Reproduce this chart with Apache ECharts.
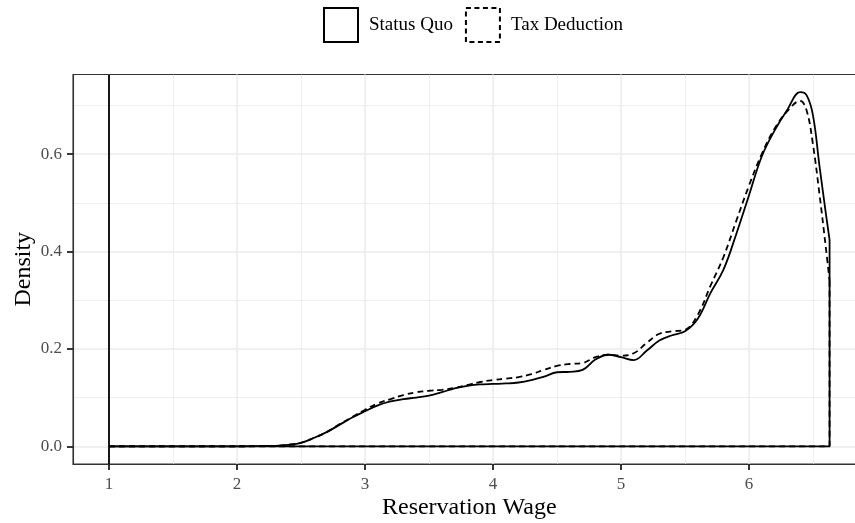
<!DOCTYPE html>
<html>
<head>
<meta charset="utf-8">
<script src="https://cdn.jsdelivr.net/npm/echarts@6/dist/echarts.min.js"></script>
<style>
  html, body { margin: 0; padding: 0; background: #fff; }
  #chart { width: 855px; height: 523px; }
</style>
</head>
<body>
<div id="chart"></div>
<script>
// Reservation wage grid and estimated densities for the two scenarios
const wage = [1.0, 2.0, 2.2, 2.3, 2.4, 2.5, 2.6, 2.7, 2.8, 2.9, 3.0, 3.1, 3.2, 3.3, 3.4, 3.5, 3.6, 3.7, 3.8, 3.9,
              4.0, 4.1, 4.2, 4.3, 4.4, 4.5, 4.6, 4.7, 4.8, 4.9, 5.0, 5.1, 5.2, 5.3, 5.4, 5.5, 5.6, 5.7, 5.8, 5.9,
              6.0, 6.1, 6.2, 6.3, 6.4, 6.45, 6.5, 6.55, 6.6, 6.63];
const statusQuo = [0, 0, 0.0005, 0.001, 0.003, 0.007, 0.017, 0.029, 0.044, 0.059, 0.072, 0.084, 0.092, 0.097, 0.100, 0.104, 0.111, 0.119, 0.124, 0.127,
                   0.128, 0.129, 0.131, 0.136, 0.143, 0.152, 0.153, 0.157, 0.178, 0.188, 0.183, 0.177, 0.196, 0.217, 0.228, 0.236, 0.262, 0.315, 0.362, 0.435,
                   0.515, 0.595, 0.648, 0.691, 0.727, 0.721, 0.680, 0.578, 0.480, 0.424];
const taxDeduction = [0, 0, 0.0005, 0.001, 0.003, 0.007, 0.017, 0.029, 0.045, 0.060, 0.075, 0.088, 0.097, 0.105, 0.111, 0.114, 0.116, 0.120, 0.126, 0.132,
                      0.136, 0.139, 0.142, 0.148, 0.157, 0.165, 0.169, 0.171, 0.183, 0.188, 0.186, 0.191, 0.212, 0.231, 0.236, 0.239, 0.270, 0.330, 0.388, 0.462,
                      0.535, 0.600, 0.652, 0.688, 0.709, 0.690, 0.620, 0.520, 0.410, 0.340];

const seriesNames = ['Status Quo', 'Tax Deduction'];
const referenceWage = [1];

// Axis ticks and labels
const xTicks = [1, 2, 3, 4, 5, 6];
const xMinorTicks = [1.5, 2.5, 3.5, 4.5, 5.5, 6.5];
const yTicks = [0, 0.2, 0.4, 0.6];
const yTickLabels = ['0.0', '0.2', '0.4', '0.6'];
const yMinorTicks = [0.1, 0.3, 0.5, 0.7];

const xTitle = 'Reservation Wage';
const yTitle = 'Density';

// Panel limits with a 5% expansion around the data
const xLo = Math.min(...wage), xHi = Math.max(...wage);
const yHi = Math.max(...statusQuo, ...taxDeduction);
const xPad = (xHi - xLo) * 0.05, yPad = yHi * 0.05;

const FONT = 'Liberation Serif';
const INK = '#000000';
const FRAME = '#333333';

function curve(ys) { return wage.map((x, i) => [x, ys[i]]); }
// Closing outline: drop at the right end, then baseline back to the start
function outline(ys) {
  const n = wage.length - 1;
  return [[wage[n], ys[n]], [wage[n], 0], [wage[0], 0]];
}

const majorGrid = { show: true, lineStyle: { color: '#EBEBEB', width: 1.6 } };
const minorGrid = { show: true, lineStyle: { color: '#EBEBEB', width: 0.8 } };

const chart = echarts.init(document.getElementById('chart'), null, { renderer: 'canvas' });
chart.setOption({
  backgroundColor: '#ffffff',
  animation: false,
  grid: {
    left: 73, top: 74.5, width: 792.6, height: 389.5,
    outerBoundsMode: 'none', containLabel: false,
    show: true, borderColor: FRAME, borderWidth: 1.1, backgroundColor: 'transparent'
  },
  legend: {
    left: 323, top: 7, padding: 0,
    itemWidth: 34, itemHeight: 34, itemGap: 12,
    icon: 'rect',
    data: [
      { name: seriesNames[0], itemStyle: { color: 'rgba(0,0,0,0)', borderColor: INK, borderWidth: 2, borderType: 'solid' } },
      { name: seriesNames[1], itemStyle: { color: 'rgba(0,0,0,0)', borderColor: INK, borderWidth: 2, borderType: [5, 3.5] } }
    ],
    textStyle: { fontFamily: FONT, fontSize: 19, color: INK, padding: [0, 0, 0, 6] }
  },
  xAxis: [
    {
      type: 'value', min: xLo - xPad, max: xHi + xPad, position: 'bottom',
      name: xTitle, nameLocation: 'middle', nameGap: 32, nameMoveOverlap: false,
      nameTextStyle: { fontFamily: FONT, fontSize: 24, color: INK },
      axisLine: { show: true, onZero: false, lineStyle: { color: FRAME, width: 1.1 } },
      axisTick: { show: true, length: 6, lineStyle: { color: '#222222', width: 1.8 }, customValues: xTicks },
      axisLabel: { show: true, margin: 12, fontFamily: FONT, fontSize: 17, color: '#4D4D4D', customValues: xTicks,
                   formatter: v => String(v) },
      splitLine: majorGrid
    },
    {
      type: 'value', min: xLo - xPad, max: xHi + xPad, position: 'top',
      axisLine: { show: false },
      axisTick: { show: false, customValues: xMinorTicks },
      axisLabel: { show: false, customValues: xMinorTicks },
      splitLine: minorGrid
    }
  ],
  yAxis: [
    {
      type: 'value', min: -yPad, max: yHi + yPad, position: 'left',
      name: yTitle, nameLocation: 'middle', nameGap: 37, nameMoveOverlap: false,
      nameTextStyle: { fontFamily: FONT, fontSize: 24, color: INK },
      axisLine: { show: true, onZero: false, lineStyle: { color: FRAME, width: 1.1 } },
      axisTick: { show: true, length: 6, lineStyle: { color: '#222222', width: 1.8 }, customValues: yTicks },
      axisLabel: { show: true, margin: 11, fontFamily: FONT, fontSize: 17, color: '#4D4D4D', customValues: yTicks,
                   formatter: v => yTickLabels[yTicks.findIndex(t => Math.abs(t - v) < 1e-9)] },
      splitLine: majorGrid
    },
    {
      type: 'value', min: -yPad, max: yHi + yPad, position: 'right',
      axisLine: { show: false },
      axisTick: { show: false, customValues: yMinorTicks },
      axisLabel: { show: false, customValues: yMinorTicks },
      splitLine: minorGrid
    }
  ],
  series: [
    {
      name: seriesNames[1], type: 'line', data: curve(taxDeduction),
      smooth: 0.4, showSymbol: false, symbol: 'none',
      lineStyle: { color: INK, width: 1.8, type: [6, 4] }, itemStyle: { color: INK }, z: 3
    },
    {
      name: seriesNames[1] + ' outline', type: 'line', data: outline(taxDeduction),
      showSymbol: false, symbol: 'none',
      lineStyle: { color: INK, width: 1.8, type: [6, 4] }, z: 3
    },
    {
      name: seriesNames[0], type: 'line', data: curve(statusQuo),
      smooth: 0.4, showSymbol: false, symbol: 'none',
      lineStyle: { color: INK, width: 1.8, type: 'solid' }, itemStyle: { color: INK }, z: 4,
      markLine: {
        silent: true, symbol: 'none', label: { show: false },
        lineStyle: { color: INK, width: 1.8, type: 'solid' },
        data: referenceWage.map(v => ({ xAxis: v }))
      }
    },
    {
      name: seriesNames[0] + ' outline', type: 'line', data: outline(statusQuo),
      showSymbol: false, symbol: 'none',
      lineStyle: { color: INK, width: 1.8, type: 'solid' }, z: 4
    }
  ]
});
</script>
</body>
</html>
